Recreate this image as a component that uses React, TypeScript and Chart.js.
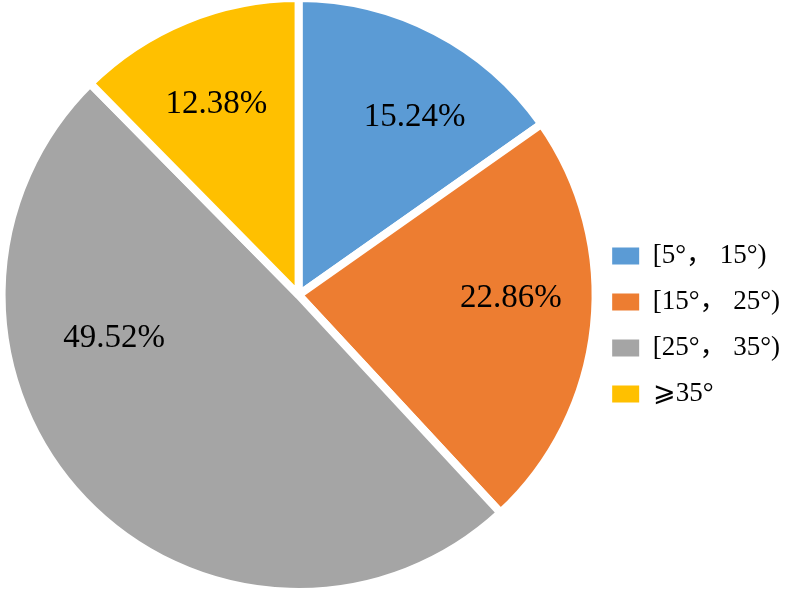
import React, { useEffect, useRef } from "react";
import { Chart, registerables } from "chart.js";

Chart.register(...registerables);

const categories = ["[5°， 15°)", "[15°， 25°)", "[25°， 35°)", "⩾35°"];
const shares = [15.24, 22.86, 49.52, 12.38];
const sliceColors = ["#5B9BD5", "#ED7D31", "#A5A5A5", "#FFC000"];

// label placement tweaks (degrees shift from slice middle, fraction of radius)
const labelAngleShift = [5.3, -5.9, 31.3, -0.8];
const labelRadiusFrac = [0.722, 0.715, 0.636, 0.706];

const SERIF = "'Liberation Serif', 'Times New Roman', 'Noto Sans CJK SC', serif";
const LABEL_SIZE = 33;

const pctLabels = {
  id: "pctLabels",
  afterDatasetsDraw(chart: any) {
    const ctx = chart.ctx;
    const meta = chart.getDatasetMeta(0);
    ctx.save();
    ctx.font = `${LABEL_SIZE}px ${SERIF}`;
    ctx.fillStyle = "#000";
    ctx.textAlign = "center";
    ctx.textBaseline = "alphabetic";
    meta.data.forEach((arc: any, i: number) => {
      const p = arc.getProps(["x", "y", "startAngle", "endAngle", "outerRadius"], true);
      const mid = (p.startAngle + p.endAngle) / 2 + (labelAngleShift[i] * Math.PI) / 180;
      const r = p.outerRadius * labelRadiusFrac[i];
      ctx.fillText(
        shares[i].toFixed(2) + "%",
        p.x + Math.cos(mid) * r,
        p.y + Math.sin(mid) * r + LABEL_SIZE * 0.345
      );
    });
    ctx.restore();
  },
};

export default function App() {
  const ref = useRef<HTMLCanvasElement>(null);
  useEffect(() => {
    if (!ref.current) return;
    const chart = new Chart(ref.current, {
      type: "pie",
      data: {
        labels: categories,
        datasets: [
          {
            data: shares,
            backgroundColor: sliceColors,
            borderColor: "#ffffff",
            borderWidth: 8,
            radius: 297,
          },
        ],
      },
      options: {
        responsive: false,
        animation: false,
        layout: { padding: { left: 4, right: 10, top: 0, bottom: 8 } },
        plugins: {
          tooltip: { enabled: false },
          legend: {
            position: "right",
            align: "center",
            title: {
              display: true,
              text: "",
              font: { size: 10, lineHeight: 1 },
              padding: { top: 50, bottom: 0 },
            },
            labels: {
              boxWidth: 27,
              boxHeight: 17,
              padding: 19,
              color: "#000",
              font: { size: 27, family: SERIF },
              generateLabels(c: any) {
                const items = Chart.overrides.pie.plugins.legend.labels.generateLabels(c);
                return items.map((it: any) => ({ ...it, lineWidth: 0, strokeStyle: "rgba(0,0,0,0)" }));
              },
            },
          },
        },
      },
      plugins: [pctLabels],
    });
    return () => chart.destroy();
  }, []);
  return (
    <div style={{ position: "fixed", left: 0, top: 0, width: 800, height: 598, background: "#fff" }}>
      <canvas ref={ref} width={800} height={598} />
    </div>
  );
}
